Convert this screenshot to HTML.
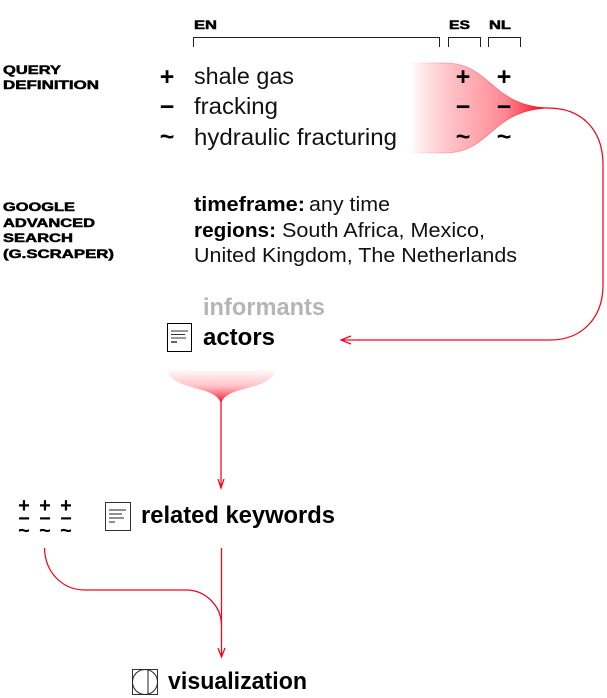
<!DOCTYPE html>
<html><head><meta charset="utf-8"><style>
html,body{margin:0;padding:0;background:#fff}
svg{display:block}
text{font-family:"Liberation Sans",sans-serif;fill:#000}
.h{font-weight:bold;font-size:12px;stroke:#000;stroke-width:.5}
.t{font-size:23px;fill:#111}
.m{font-size:20px;fill:#111}
.mb{font-size:20px;font-weight:bold}
.b{font-weight:bold;font-size:24px}
.s{font-weight:bold;font-size:25px;text-anchor:middle}
.x{font-weight:bold;font-size:20px;text-anchor:middle}
.r{fill:none;stroke:#f5051c;stroke-width:1.25}
.k{fill:none;stroke:#222;stroke-width:1}
</style></head><body>
<svg width="607" height="698" viewBox="0 0 607 698" xmlns="http://www.w3.org/2000/svg">
<defs>
<linearGradient id="g1" x1="410" x2="545" y1="0" y2="0" gradientUnits="userSpaceOnUse">
<stop offset="0" stop-color="#ff1a30" stop-opacity="0"/><stop offset=".35" stop-color="#ff4a5a" stop-opacity=".38"/><stop offset=".7" stop-color="#ff3a4c" stop-opacity=".6"/><stop offset="1" stop-color="#f5051c"/></linearGradient>
<linearGradient id="g2" x1="0" x2="0" y1="369" y2="403" gradientUnits="userSpaceOnUse">
<stop offset="0" stop-color="#ff1a30" stop-opacity="0"/><stop offset=".5" stop-color="#ff3a4c" stop-opacity=".3"/><stop offset="1" stop-color="#f5051c"/></linearGradient>
</defs>
<path class="k" d="M193.500 47V37.500H439.500V47M448.500 47V37.500H480.500V47M488.500 47V37.500H520.500V47"/>
<text class="h" x="194" y="29" textLength="23" lengthAdjust="spacingAndGlyphs">EN</text>
<text class="h" x="449" y="29" textLength="21" lengthAdjust="spacingAndGlyphs">ES</text>
<text class="h" x="489" y="29" textLength="22" lengthAdjust="spacingAndGlyphs">NL</text>
<text class="h" x="3" y="74" textLength="58" lengthAdjust="spacingAndGlyphs">QUERY</text>
<text class="h" x="3" y="89" textLength="96" lengthAdjust="spacingAndGlyphs">DEFINITION</text>
<text class="h" x="3" y="211" textLength="72" lengthAdjust="spacingAndGlyphs">GOOGLE</text>
<text class="h" x="3" y="227" textLength="92" lengthAdjust="spacingAndGlyphs">ADVANCED</text>
<text class="h" x="3" y="242" textLength="70" lengthAdjust="spacingAndGlyphs">SEARCH</text>
<text class="h" x="3" y="258" textLength="111" lengthAdjust="spacingAndGlyphs">(G.SCRAPER)</text>
<path d="M410 63H445C490 63 490 104 545 108C490 112 490 153 445 153H410Z" fill="url(#g1)"/>
<path d="M410 63H445C490 63 490 104 545 108M410 153H445C490 153 490 112 545 108" fill="none" stroke="url(#g1)" stroke-width="1"/>
<text class="t" x="194" y="84" textLength="100" lengthAdjust="spacingAndGlyphs">shale gas</text>
<text class="t" x="194" y="114" textLength="84" lengthAdjust="spacingAndGlyphs">fracking</text>
<text class="t" x="194" y="145" textLength="203" lengthAdjust="spacingAndGlyphs">hydraulic fracturing</text>
<text class="s" x="167" y="85">+</text><text class="s" x="167" y="115">−</text><text class="s" x="167" y="145">~</text>
<text class="s" x="463" y="85">+</text><text class="s" x="463" y="115">−</text><text class="s" x="463" y="145">~</text>
<text class="s" x="504" y="85">+</text><text class="s" x="504" y="115">−</text><text class="s" x="504" y="145">~</text>
<text class="mb" x="194" y="211" textLength="111" lengthAdjust="spacingAndGlyphs">timeframe:</text>
<text class="m" x="309" y="211" textLength="81" lengthAdjust="spacingAndGlyphs">any time</text>
<text class="mb" x="194" y="237" textLength="82" lengthAdjust="spacingAndGlyphs">regions:</text>
<text class="m" x="282" y="237" textLength="203" lengthAdjust="spacingAndGlyphs">South Africa, Mexico,</text>
<text class="m" x="194" y="262" textLength="323" lengthAdjust="spacingAndGlyphs">United Kingdom, The Netherlands</text>
<path class="r" d="M540 108H548C582 108 603 130 603 165V285C603 318 582 340 550 340H342"/>
<path class="r" d="M351 336L341 340L351 344"/>
<text class="b" x="203" y="315" style="fill:#b5b5b5" textLength="122" lengthAdjust="spacingAndGlyphs">informants</text>
<text class="b" x="203" y="345" textLength="72" lengthAdjust="spacingAndGlyphs">actors</text>
<rect x="167.500" y="323.500" width="24" height="28" fill="#fff" stroke="#000"/>
<path d="M171 331H188M171 334.500H185M171 338H186" stroke="#333" fill="none"/><path d="M171 342H177" stroke="#333" stroke-width="1.500" fill="none"/>
<path d="M167 369C172 392 214 384 221 403C228 384 271 392 276 369Z" fill="url(#g2)"/>
<path class="r" d="M221 400V488M218 479L221 488L224 479"/>
<rect x="105.500" y="502.500" width="25" height="28" fill="#fff" stroke="#333"/>
<path d="M109 510H126M109 514H122M109 518H124M109 522H115" stroke="#222" fill="none"/>
<text class="b" x="141" y="523" textLength="194" lengthAdjust="spacingAndGlyphs">related keywords</text>
<text class="x" x="24" y="512">+</text><text class="x" x="45" y="512">+</text><text class="x" x="66" y="512">+</text>
<text class="x" x="24" y="525">−</text><text class="x" x="45" y="525">−</text><text class="x" x="66" y="525">−</text>
<text class="x" x="24" y="537">~</text><text class="x" x="45" y="537">~</text><text class="x" x="66" y="537">~</text>
<path class="r" d="M44.500 548C45 572 62 590 85 590H186C205 590 221 605 221.500 625"/>
<path class="r" d="M221.500 548V657M218 648L221.500 657L225 648"/>
<rect x="132.500" y="669.500" width="25" height="25" fill="#fff" stroke="#333"/>
<circle cx="145" cy="682" r="12.500" class="k"/>
<path class="k" d="M148 670V694"/>
<text class="b" x="168" y="689" textLength="139" lengthAdjust="spacingAndGlyphs">visualization</text>
</svg>
</body></html>
